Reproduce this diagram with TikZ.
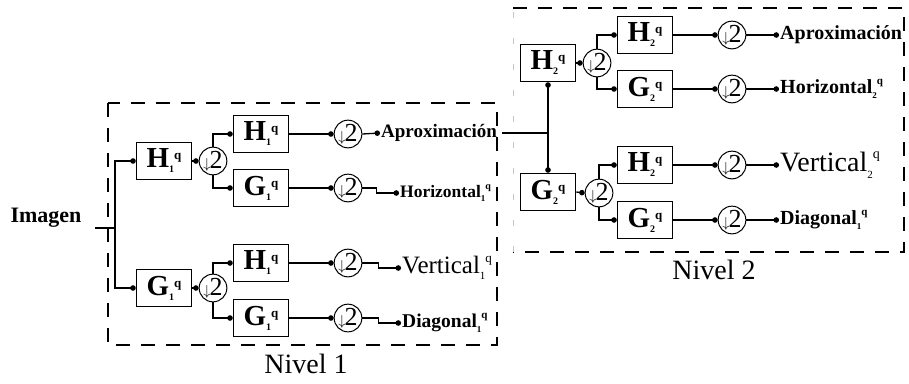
\documentclass[tikz,border=0pt]{standalone}
\usepackage{fontspec}
\setmainfont{Liberation Serif}
\usetikzlibrary{arrows.meta}
\newcommand\fsz[1]{\fontsize{#1}{#1}\selectfont}
% filter label: bold letter with level subscript and q superscript
\newcommand\filt[2]{{\fsz{29}\bfseries #1}\raisebox{-5pt}{\fsz{10}\bfseries #2}\raisebox{8pt}{\fsz{13}\bfseries q}}
% output label: name, subscript, sub/sup sizes
\newcommand\outsub[4]{#1\raisebox{-0.25em}{\fsz{#3}#2}\raisebox{0.45em}{\fsz{#4}q}}
% downsampling symbol
\newcommand\dwn{{\fsz{14}$\downarrow$}\kern-1pt 2}
\begin{document}
\begin{tikzpicture}[x=1pt,y=-1pt,
  filt/.style={draw, line width=1.5pt, minimum width=55pt, minimum height=37pt, inner sep=0pt},
  down/.style={circle, draw, line width=1pt, minimum size=27pt, inner sep=0pt, font=\fsz{26}},
  wire/.style={line width=1.3pt},
  tip/.style={wire, -{Circle[length=5.5pt]}},
  bitip/.style={wire, {Circle[length=5.5pt]}-{Circle[length=5.5pt]}},
  outlbl/.style={anchor=west, inner sep=1pt},
  levelbox/.style={line width=1.5pt, dash pattern=on 14pt off 11pt}]
\useasboundingbox (0,0) rectangle (909,383);

% ---------- level boxes ----------
\draw[levelbox] (108,103) rectangle (497,345);
\draw[levelbox] (513,8) -- (904,8) -- (904,252) -- (513,252);
\draw[line width=0.6pt, gray!45, dash pattern=on 6pt off 20pt] (513,252) -- (513,8);

% ---------- level 1 ----------
\node[font=\bfseries\fsz{22}] (img) at (46,218) {Imagen};
\coordinate (split) at (115,228);

\node[filt] (h1a) at (164,161) {\filt{H}{1}};
\node[filt] (g1a) at (164,288) {\filt{G}{1}};
\node[down] (d1a) at (213,161) {\dwn};
\node[down] (d1b) at (213,288) {\dwn};

\node[filt] (h1b) at (261,134) {\filt{H}{1}};
\node[filt] (g1b) at (261,188) {\filt{G}{1}};
\node[filt] (h1c) at (261,263) {\filt{H}{1}};
\node[filt] (g1c) at (261,318) {\filt{G}{1}};

\node[down] (e1) at (348,134) {\dwn};
\node[down] (e2) at (348,188) {\dwn};
\node[down] (e3) at (348,263) {\dwn};
\node[down] (e4) at (348,318) {\dwn};

\node[outlbl, font=\bfseries\fsz{19}] (ap1) at (380,133) {Aproximación};
\node[outlbl, font=\bfseries\fsz{17.5}] (hz1) at (399,193) {\outsub{Horizontal}{1}{9}{10}};
\node[outlbl, font=\fsz{25}] (vt1) at (401,268) {\outsub{Vertical}{1}{11}{13}};
\node[outlbl, font=\bfseries\fsz{19.5}] (dg1) at (401,323) {\outsub{Diagonal}{1}{9}{11}};

\node[font=\fsz{28}] (nv1) at (306,364) {Nivel 1};

\draw[wire] (split -| img.east) ++(10,0) -- (split);
\draw[tip] (split) |- (h1a.west);
\draw[tip] (split) |- (g1a.west);
\draw[tip] (h1a.east) -- (d1a.west);
\draw[tip] (g1a.east) -- (d1b.west);
\draw[tip] (d1a.north) |- (h1b.west);
\draw[tip] (d1a.south) |- (g1b.west);
\draw[tip] (d1b.north) |- (h1c.west);
\draw[tip] (d1b.south) |- (g1c.west);
\draw[tip] (h1b.east) -- (e1.west);
\draw[tip] (g1b.east) -- (e2.west);
\draw[tip] (h1c.east) -- (e3.west);
\draw[tip] (g1c.east) -- (e4.west);
\draw[tip] (e1.east) -- (ap1.west);
\draw[tip] (e2.east) -- ++(14,0) |- (hz1.west);
\draw[tip] (e3.east) -- ++(16,0) |- (vt1.west);
\draw[tip] (e4.east) -- ++(16,0) |- (dg1.west);

% ---------- level 2 ----------
\node[filt] (h2a) at (548,63) {\filt{H}{2}};
\node[filt] (g2a) at (548,192) {\filt{G}{2}};
\node[down] (d2a) at (597,63) {\dwn};
\node[down] (d2b) at (599,193) {\dwn};

\node[filt] (h2b) at (645,35) {\filt{H}{2}};
\node[filt] (g2b) at (645,89) {\filt{G}{2}};
\node[filt] (h2c) at (645,165) {\filt{H}{2}};
\node[filt] (g2c) at (645,220) {\filt{G}{2}};

\node[down] (f1) at (732,35) {\dwn};
\node[down] (f2) at (732,89) {\dwn};
\node[down] (f3) at (732,165) {\dwn};
\node[down] (f4) at (732,220) {\dwn};

\node[outlbl, font=\bfseries\fsz{20}] (ap2) at (779,35) {Aproximación};
\node[outlbl, font=\bfseries\fsz{20}] (hz2) at (779,89) {\outsub{Horizontal}{2}{9}{11}};
\node[outlbl, font=\fsz{28}] (vt2) at (779,165) {\outsub{Vertical}{2}{11}{14}};
\node[outlbl, font=\bfseries\fsz{20}] (dg2) at (779,220) {\outsub{Diagonal}{1}{9}{11}};

\node[font=\fsz{28}] (nv2) at (714,270) {Nivel 2};

\coordinate (join) at (h2a.south |- ap1.east);
\draw[wire] (ap1.east) ++(4,0) -- (join);
\draw[bitip] (h2a.south) -- (g2a.north);
\draw[tip] (h2a.east) -- (d2a.west);
\draw[tip] (g2a.east) -- (d2b.west);
\draw[tip] (d2a.north) |- (h2b.west);
\draw[tip] (d2a.south) |- (g2b.west);
\draw[tip] (d2b.north) |- (h2c.west);
\draw[tip] (d2b.south) |- (g2c.west);
\draw[tip] (h2b.east) -- (f1.west);
\draw[tip] (g2b.east) -- (f2.west);
\draw[tip] (h2c.east) -- (f3.west);
\draw[tip] (g2c.east) -- (f4.west);
\draw[tip] (f1.east) -- (ap2.west);
\draw[tip] (f2.east) -- (hz2.west);
\draw[tip] (f3.east) -- (vt2.west);
\draw[tip] (f4.east) -- (dg2.west);
\end{tikzpicture}
\end{document}
